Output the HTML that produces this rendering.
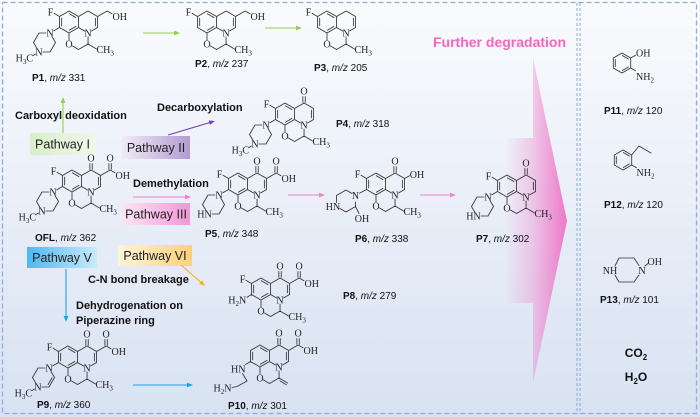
<!DOCTYPE html>
<html><head><meta charset="utf-8"><style>
html,body{margin:0;padding:0;width:700px;height:417px;overflow:hidden;background:#fff}
svg{display:block}
.b{stroke:#333;stroke-width:0.85;fill:none;stroke-linecap:round;stroke-linejoin:round}
.a{font-family:"Liberation Serif",serif;font-size:10px;fill:#222}
.l{font-family:"Liberation Sans",sans-serif;font-size:10px;fill:#111}
.t{font-family:"Liberation Sans",sans-serif;font-size:11px;font-weight:bold;fill:#111}
.p{font-family:"Liberation Sans",sans-serif;font-size:12.5px;fill:#222}
</style></head><body>
<svg width="700" height="417" viewBox="0 0 700 417" xmlns="http://www.w3.org/2000/svg">
<defs>
<linearGradient id="bg" x1="0" y1="0" x2="0" y2="1"><stop offset="0" stop-color="#fafbfe"/><stop offset="1" stop-color="#d8e2f2"/></linearGradient>
<linearGradient id="fd" gradientUnits="userSpaceOnUse" x1="505" y1="0" x2="567" y2="0"><stop offset="0" stop-color="#f06ec4" stop-opacity="0"/><stop offset="0.45" stop-color="#f06ec4" stop-opacity="0.32"/><stop offset="1" stop-color="#ee6cc3" stop-opacity="0.9"/></linearGradient>
<linearGradient id="g1" x1="0" y1="0" x2="1" y2="0"><stop offset="0" stop-color="#d9eec9"/><stop offset="1" stop-color="#eef7e8"/></linearGradient>
<linearGradient id="g2" x1="0" y1="0" x2="1" y2="0"><stop offset="0" stop-color="#f1ebf7"/><stop offset="1" stop-color="#b39bd2"/></linearGradient>
<linearGradient id="g3" x1="0" y1="0" x2="1" y2="0"><stop offset="0" stop-color="#fce6f4"/><stop offset="1" stop-color="#f297d7"/></linearGradient>
<linearGradient id="g5" x1="0" y1="0" x2="1" y2="0"><stop offset="0" stop-color="#4db9ef"/><stop offset="1" stop-color="#c9eafb"/></linearGradient>
<linearGradient id="g6" x1="0" y1="0" x2="1" y2="0"><stop offset="0" stop-color="#fff4d9"/><stop offset="1" stop-color="#fbd27a"/></linearGradient>
</defs>

<rect x="0" y="0" width="700" height="417" fill="url(#bg)"/>
<rect x="2.5" y="2.5" width="694" height="411" fill="none" stroke="#8eaadc" stroke-width="1.3" stroke-dasharray="5 3"/>
<line x1="577" y1="3" x2="577" y2="414" stroke="#8eaadc" stroke-width="1" stroke-dasharray="3 2"/>
<line x1="580" y1="3" x2="580" y2="414" stroke="#8eaadc" stroke-width="1" stroke-dasharray="3 2"/>

<!-- Further degradation arrow -->
<path d="M505,138 L533,138 L533,58 L567,221 L533,383 L533,303 L505,303 Z" fill="url(#fd)"/>
<text x="433" y="47" font-family="Liberation Sans, sans-serif" font-size="14" font-weight="bold" fill="#f466c0">Further degradation</text>

<!-- Pathway boxes -->
<rect x="30" y="133" width="65" height="22" fill="url(#g1)"/>
<text class="p" x="62.5" y="148.5" text-anchor="middle">Pathway I</text>
<rect x="122" y="136" width="68" height="23" fill="url(#g2)"/>
<text class="p" x="156" y="152" text-anchor="middle">Pathway II</text>
<rect x="122" y="203" width="68" height="22" fill="url(#g3)"/>
<text class="p" x="156" y="218.5" text-anchor="middle">Pathway III</text>
<rect x="27" y="247" width="70" height="21" fill="url(#g5)"/>
<text class="p" x="62" y="262" text-anchor="middle">Pathway V</text>
<rect x="118" y="245" width="74" height="21" fill="url(#g6)"/>
<text class="p" x="155" y="260" text-anchor="middle">Pathway VI</text>

<!-- Reaction labels -->
<text class="t" x="15" y="119">Carboxyl deoxidation</text>
<text class="t" x="157" y="111">Decarboxylation</text>
<text class="t" x="133" y="187">Demethylation</text>
<text class="t" x="88" y="283">C-N bond breakage</text>
<text class="t" x="76" y="309">Dehydrogenation on</text>
<text class="t" x="76" y="324">Piperazine ring</text>

<!-- Arrows -->
<g stroke-width="1.1" fill="none">
<line x1="143" y1="33" x2="175" y2="33" stroke="#92d050"/>
<line x1="265" y1="28" x2="297" y2="28" stroke="#92d050"/>
<line x1="63" y1="133" x2="63" y2="102" stroke="#92d050"/>
<line x1="168" y1="135" x2="210" y2="122.5" stroke="#7b3fb0"/>
<line x1="133" y1="197" x2="186" y2="197" stroke="#f27fcf"/>
<line x1="288" y1="195" x2="320" y2="195" stroke="#f27fcf"/>
<line x1="420" y1="195" x2="451" y2="195" stroke="#f27fcf"/>
<line x1="181" y1="265" x2="201" y2="282.5" stroke="#f5b21a"/>
<line x1="66" y1="269" x2="66" y2="317" stroke="#1aa6e8"/>
<line x1="133" y1="385" x2="188" y2="385" stroke="#1aa6e8"/>
</g>
<polygon points="180,33 174,30.6 174,35.4" fill="#92d050"/>
<polygon points="302,28 296,25.6 296,30.4" fill="#92d050"/>
<polygon points="63,97 60.6,103 65.4,103" fill="#92d050"/>
<polygon points="215,121 209.9,124.9 208.6,120.5" fill="#7b3fb0"/>
<polygon points="191,197 185,194.6 185,199.4" fill="#f27fcf"/>
<polygon points="325,195 319,192.6 319,197.4" fill="#f27fcf"/>
<polygon points="456,195 450,192.6 450,197.4" fill="#f27fcf"/>
<polygon points="205,286 199,283.6 202.2,280.2" fill="#f5b21a"/>
<polygon points="66,322 63.6,316 68.4,316" fill="#1aa6e8"/>
<polygon points="193,385 187,382.6 187,387.4" fill="#1aa6e8"/>

<!-- P1 -->
<g transform="translate(69,22)">
<path class="b" d="M0,-11 L9.53,-5.5 L9.53,5.5 L0,11 L-9.53,5.5 L-9.53,-5.5 Z M0.33,-8.28 L7,-4.42 M7,4.43 L0.33,8.28 M-7.33,3.85 L-7.33,-3.85 M9.53,-5.5 L19.05,-11 L28.58,-5.5 L28.58,5.5 L22.5,9 M15.6,9 L9.53,5.5 M26.38,-3.85 L26.38,3.85 M0,11 L0,18 M3.46,24 L9.53,27.5 L19.05,22 L19.05,15 M19.05,22 L27.5,27 M28.58,-5.5 L38.1,-11 L43,-8.2 M-9.53,-5.5 L-15,-8.7 M-9.53,5.5 L-15.3,8.9 M-23,11 L-30,11 L-35.5,20.5 L-32,26.5 M-26,30 L-19,30 L-13.5,20.5 L-17,14.5 M-33.5,32 L-36,33.5"/>
<text class="a" text-anchor="middle" x="19.05" y="14.5">N</text>
<text class="a" text-anchor="middle" x="0" y="25.5">O</text>
<text class="a" x="27.5" y="31">CH<tspan font-size="7" dy="2.5">3</tspan></text>
<text class="a" x="43.5" y="-2">OH</text>
<text class="a" text-anchor="middle" x="-18.5" y="-6.5">F</text>
<text class="a" text-anchor="middle" x="-19" y="14.5">N</text>
<text class="a" text-anchor="middle" x="-30" y="33.5">N</text>
<text class="a" text-anchor="end" x="-36" y="39.5">H<tspan font-size="7" dy="2.5">3</tspan><tspan dy="-2.5">C</tspan></text>
</g>
<text class="l" x="32" y="81"><tspan font-weight="bold">P1</tspan>, <tspan font-style="italic">m/z</tspan> 331</text>

<!-- P2 -->
<g transform="translate(207,22)">
<path class="b" d="M0,-11 L9.53,-5.5 L9.53,5.5 L0,11 L-9.53,5.5 L-9.53,-5.5 Z M0.33,-8.28 L7,-4.42 M7,4.43 L0.33,8.28 M-7.33,3.85 L-7.33,-3.85 M9.53,-5.5 L19.05,-11 L28.58,-5.5 L28.58,5.5 L22.5,9 M15.6,9 L9.53,5.5 M26.38,-3.85 L26.38,3.85 M0,11 L0,18 M3.46,24 L9.53,27.5 L19.05,22 L19.05,15 M19.05,22 L27.5,27 M28.58,-5.5 L38.1,-11 L43,-8.2 M-9.53,-5.5 L-15,-8.7"/>
<text class="a" text-anchor="middle" x="19.05" y="14.5">N</text>
<text class="a" text-anchor="middle" x="0" y="25.5">O</text>
<text class="a" x="27.5" y="31">CH<tspan font-size="7" dy="2.5">3</tspan></text>
<text class="a" x="43.5" y="-2">OH</text>
<text class="a" text-anchor="middle" x="-18.5" y="-6.5">F</text>
</g>
<text class="l" x="195" y="67"><tspan font-weight="bold">P2</tspan>, <tspan font-style="italic">m/z</tspan> 237</text>

<!-- P3 -->
<g transform="translate(327,22)">
<path class="b" d="M0,-11 L9.53,-5.5 L9.53,5.5 L0,11 L-9.53,5.5 L-9.53,-5.5 Z M0.33,-8.28 L7,-4.42 M7,4.43 L0.33,8.28 M-7.33,3.85 L-7.33,-3.85 M9.53,-5.5 L19.05,-11 L28.58,-5.5 L28.58,5.5 L22.5,9 M15.6,9 L9.53,5.5 M26.38,-3.85 L26.38,3.85 M0,11 L0,18 M3.46,24 L9.53,27.5 L19.05,22 L19.05,15 M19.05,22 L27.5,27 M-9.53,-5.5 L-15,-8.7"/>
<text class="a" text-anchor="middle" x="19.05" y="14.5">N</text>
<text class="a" text-anchor="middle" x="0" y="25.5">O</text>
<text class="a" x="27.5" y="31">CH<tspan font-size="7" dy="2.5">3</tspan></text>
<text class="a" text-anchor="middle" x="-18.5" y="-6.5">F</text>
</g>
<text class="l" x="314" y="71"><tspan font-weight="bold">P3</tspan>, <tspan font-style="italic">m/z</tspan> 205</text>

<!-- P4 -->
<g transform="translate(285,114)">
<path class="b" d="M0,-11 L9.53,-5.5 L9.53,5.5 L0,11 L-9.53,5.5 L-9.53,-5.5 Z M0.33,-8.28 L7,-4.42 M7,4.43 L0.33,8.28 M-7.33,3.85 L-7.33,-3.85 M9.53,-5.5 L19.05,-11 L28.58,-5.5 L28.58,5.5 L22.5,9 M15.6,9 L9.53,5.5 M26.38,-3.85 L26.38,3.85 M0,11 L0,18 M3.46,24 L9.53,27.5 L19.05,22 L19.05,15 M19.05,22 L27.5,27 M17.85,-11.7 L17.85,-17.5 M20.25,-11.7 L20.25,-17.5 M-9.53,-5.5 L-15,-8.7 M-9.53,5.5 L-15.3,8.9 M-23,11 L-30,11 L-35.5,20.5 L-32,26.5 M-26,30 L-19,30 L-13.5,20.5 L-17,14.5 M-33.5,32 L-36,33.5"/>
<text class="a" text-anchor="middle" x="19.05" y="14.5">N</text>
<text class="a" text-anchor="middle" x="0" y="25.5">O</text>
<text class="a" x="27.5" y="31">CH<tspan font-size="7" dy="2.5">3</tspan></text>
<text class="a" text-anchor="middle" x="19.05" y="-19.5">O</text>
<text class="a" text-anchor="middle" x="-18.5" y="-6.5">F</text>
<text class="a" text-anchor="middle" x="-19" y="14.5">N</text>
<text class="a" text-anchor="middle" x="-30" y="33.5">N</text>
<text class="a" text-anchor="end" x="-36" y="39.5">H<tspan font-size="7" dy="2.5">3</tspan><tspan dy="-2.5">C</tspan></text>
</g>
<text class="l" x="336" y="127"><tspan font-weight="bold">P4</tspan>, <tspan font-style="italic">m/z</tspan> 318</text>

<!-- OFL -->
<g transform="translate(72,181)">
<path class="b" d="M0,-11 L9.53,-5.5 L9.53,5.5 L0,11 L-9.53,5.5 L-9.53,-5.5 Z M0.33,-8.28 L7,-4.42 M7,4.43 L0.33,8.28 M-7.33,3.85 L-7.33,-3.85 M9.53,-5.5 L19.05,-11 L28.58,-5.5 L28.58,5.5 L22.5,9 M15.6,9 L9.53,5.5 M26.38,-3.85 L26.38,3.85 M0,11 L0,18 M3.46,24 L9.53,27.5 L19.05,22 L19.05,15 M19.05,22 L27.5,27 M17.85,-11.7 L17.85,-17.5 M20.25,-11.7 L20.25,-17.5 M28.58,-5.5 L38.1,-11 M36.9,-11.7 L36.9,-17.5 M39.3,-11.7 L39.3,-17.5 M38.1,-11 L43,-8.2 M-9.53,-5.5 L-15,-8.7 M-9.53,5.5 L-15.3,8.9 M-23,11 L-30,11 L-35.5,20.5 L-32,26.5 M-26,30 L-19,30 L-13.5,20.5 L-17,14.5 M-33.5,32 L-36,33.5"/>
<text class="a" text-anchor="middle" x="19.05" y="14.5">N</text>
<text class="a" text-anchor="middle" x="0" y="25.5">O</text>
<text class="a" x="27.5" y="31">CH<tspan font-size="7" dy="2.5">3</tspan></text>
<text class="a" text-anchor="middle" x="19.05" y="-19.5">O</text>
<text class="a" text-anchor="middle" x="38.1" y="-19.5">O</text>
<text class="a" x="43.5" y="-2">OH</text>
<text class="a" text-anchor="middle" x="-18.5" y="-6.5">F</text>
<text class="a" text-anchor="middle" x="-19" y="14.5">N</text>
<text class="a" text-anchor="middle" x="-30" y="33.5">N</text>
<text class="a" text-anchor="end" x="-36" y="39.5">H<tspan font-size="7" dy="2.5">3</tspan><tspan dy="-2.5">C</tspan></text>
</g>
<text class="l" x="35" y="241"><tspan font-weight="bold">OFL</tspan>, <tspan font-style="italic">m/z</tspan> 362</text>

<!-- P5 -->
<g transform="translate(238,184)">
<path class="b" d="M0,-11 L9.53,-5.5 L9.53,5.5 L0,11 L-9.53,5.5 L-9.53,-5.5 Z M0.33,-8.28 L7,-4.42 M7,4.43 L0.33,8.28 M-7.33,3.85 L-7.33,-3.85 M9.53,-5.5 L19.05,-11 L28.58,-5.5 L28.58,5.5 L22.5,9 M15.6,9 L9.53,5.5 M26.38,-3.85 L26.38,3.85 M0,11 L0,18 M3.46,24 L9.53,27.5 L19.05,22 L19.05,15 M19.05,22 L27.5,27 M17.85,-11.7 L17.85,-17.5 M20.25,-11.7 L20.25,-17.5 M28.58,-5.5 L38.1,-11 M36.9,-11.7 L36.9,-17.5 M39.3,-11.7 L39.3,-17.5 M38.1,-11 L43,-8.2 M-9.53,-5.5 L-15,-8.7 M-9.53,5.5 L-15.3,8.9 M-23,11 L-30,11 L-35.5,20.5 L-32,26.5 M-26,30 L-19,30 L-13.5,20.5 L-17,14.5"/>
<text class="a" text-anchor="middle" x="19.05" y="14.5">N</text>
<text class="a" text-anchor="middle" x="0" y="25.5">O</text>
<text class="a" x="27.5" y="31">CH<tspan font-size="7" dy="2.5">3</tspan></text>
<text class="a" text-anchor="middle" x="19.05" y="-19.5">O</text>
<text class="a" text-anchor="middle" x="38.1" y="-19.5">O</text>
<text class="a" x="43.5" y="-2">OH</text>
<text class="a" text-anchor="middle" x="-18.5" y="-6.5">F</text>
<text class="a" text-anchor="middle" x="-19" y="14.5">N</text>
<text class="a" text-anchor="end" x="-26.3" y="33.5">HN</text>
</g>
<text class="l" x="205" y="237"><tspan font-weight="bold">P5</tspan>, <tspan font-style="italic">m/z</tspan> 348</text>

<!-- P6 -->
<g transform="translate(376,184)">
<path class="b" d="M0,-11 L9.53,-5.5 L9.53,5.5 L0,11 L-9.53,5.5 L-9.53,-5.5 Z M0.33,-8.28 L7,-4.42 M7,4.43 L0.33,8.28 M-7.33,3.85 L-7.33,-3.85 M9.53,-5.5 L19.05,-11 L28.58,-5.5 L28.58,5.5 L22.5,9 M15.6,9 L9.53,5.5 M26.38,-3.85 L26.38,3.85 M0,11 L0,18 M3.46,24 L9.53,27.5 L19.05,22 L19.05,15 M19.05,22 L27.5,27 M17.85,-11.7 L17.85,-17.5 M20.25,-11.7 L20.25,-17.5 M28.58,-5.5 L33.5,-8.3 M-9.53,-5.5 L-15,-8.7 M-9.53,5.5 L-16.5,9.2 M-24,9.5 L-30,6 L-39.5,11.5 L-39.5,18.5 M-36,24.5 L-30,28 L-20.5,22.5 L-20.5,18 M-20.5,22.5 L-17,29.5"/>
<text class="a" text-anchor="middle" x="19.05" y="14.5">N</text>
<text class="a" text-anchor="middle" x="0" y="25.5">O</text>
<text class="a" x="27.5" y="31">CH<tspan font-size="7" dy="2.5">3</tspan></text>
<text class="a" text-anchor="middle" x="19.05" y="-19.5">O</text>
<text class="a" x="33.8" y="-6">OH</text>
<text class="a" text-anchor="middle" x="-18.5" y="-6.5">F</text>
<text class="a" text-anchor="middle" x="-20.5" y="15">N</text>
<text class="a" text-anchor="end" x="-35.8" y="26">HN</text>
<text class="a" text-anchor="middle" x="-14" y="38">OH</text>
</g>
<text class="l" x="355" y="242"><tspan font-weight="bold">P6</tspan>, <tspan font-style="italic">m/z</tspan> 338</text>

<!-- P7 -->
<g transform="translate(507,186)">
<path class="b" d="M0,-11 L9.53,-5.5 L9.53,5.5 L0,11 L-9.53,5.5 L-9.53,-5.5 Z M0.33,-8.28 L7,-4.42 M7,4.43 L0.33,8.28 M-7.33,3.85 L-7.33,-3.85 M9.53,-5.5 L19.05,-11 L28.58,-5.5 L28.58,5.5 L22.5,9 M15.6,9 L9.53,5.5 M26.38,-3.85 L26.38,3.85 M0,11 L0,18 M3.46,24 L9.53,27.5 L19.05,22 L19.05,15 M19.05,22 L27.5,27 M17.85,-11.7 L17.85,-17.5 M20.25,-11.7 L20.25,-17.5 M-9.53,-5.5 L-15,-8.7 M-9.53,5.5 L-15.3,8.9 M-23,11 L-30,11 L-35.5,20.5 L-32,26.5 M-26,30 L-19,30 L-13.5,20.5 L-17,14.5"/>
<text class="a" text-anchor="middle" x="19.05" y="14.5">N</text>
<text class="a" text-anchor="middle" x="0" y="25.5">O</text>
<text class="a" x="27.5" y="31">CH<tspan font-size="7" dy="2.5">3</tspan></text>
<text class="a" text-anchor="middle" x="19.05" y="-19.5">O</text>
<text class="a" text-anchor="middle" x="-18.5" y="-6.5">F</text>
<text class="a" text-anchor="middle" x="-19" y="14.5">N</text>
<text class="a" text-anchor="end" x="-26.3" y="33.5">HN</text>
</g>
<text class="l" x="476" y="242"><tspan font-weight="bold">P7</tspan>, <tspan font-style="italic">m/z</tspan> 302</text>

<!-- P8 -->
<g transform="translate(261,289)">
<path class="b" d="M0,-11 L9.53,-5.5 L9.53,5.5 L0,11 L-9.53,5.5 L-9.53,-5.5 Z M0.33,-8.28 L7,-4.42 M7,4.43 L0.33,8.28 M-7.33,3.85 L-7.33,-3.85 M9.53,-5.5 L19.05,-11 L28.58,-5.5 L28.58,5.5 L22.5,9 M15.6,9 L9.53,5.5 M26.38,-3.85 L26.38,3.85 M0,11 L0,18 M3.46,24 L9.53,27.5 L19.05,22 L19.05,15 M19.05,22 L27.5,27 M17.85,-11.7 L17.85,-17.5 M20.25,-11.7 L20.25,-17.5 M28.58,-5.5 L38.1,-11 M36.9,-11.7 L36.9,-17.5 M39.3,-11.7 L39.3,-17.5 M38.1,-11 L43,-8.2 M-9.53,-5.5 L-15,-8.7 M-9.53,5.5 L-14,8.2"/>
<text class="a" text-anchor="middle" x="19.05" y="14.5">N</text>
<text class="a" text-anchor="middle" x="0" y="25.5">O</text>
<text class="a" x="27.5" y="31">CH<tspan font-size="7" dy="2.5">3</tspan></text>
<text class="a" text-anchor="middle" x="19.05" y="-19.5">O</text>
<text class="a" text-anchor="middle" x="38.1" y="-19.5">O</text>
<text class="a" x="43.5" y="-2">OH</text>
<text class="a" text-anchor="middle" x="-18.5" y="-6.5">F</text>
<text class="a" text-anchor="end" x="-14.8" y="14.5">H<tspan font-size="7" dy="2.5">2</tspan><tspan dy="-2.5">N</tspan></text>
</g>
<text class="l" x="343" y="299"><tspan font-weight="bold">P8</tspan>, <tspan font-style="italic">m/z</tspan> 279</text>

<!-- P9 -->
<g transform="translate(68,357)">
<path class="b" d="M0,-11 L9.53,-5.5 L9.53,5.5 L0,11 L-9.53,5.5 L-9.53,-5.5 Z M0.33,-8.28 L7,-4.42 M7,4.43 L0.33,8.28 M-7.33,3.85 L-7.33,-3.85 M9.53,-5.5 L19.05,-11 L28.58,-5.5 L28.58,5.5 L22.5,9 M15.6,9 L9.53,5.5 M26.38,-3.85 L26.38,3.85 M0,11 L0,18 M3.46,24 L9.53,27.5 L19.05,22 L19.05,15 M19.05,22 L27.5,27 M17.85,-11.7 L17.85,-17.5 M20.25,-11.7 L20.25,-17.5 M28.58,-5.5 L38.1,-11 M36.9,-11.7 L36.9,-17.5 M39.3,-11.7 L39.3,-17.5 M38.1,-11 L43,-8.2 M-9.53,-5.5 L-15,-8.7 M-9.53,5.5 L-15.3,8.9 M-23,11 L-30,11 L-35.5,20.5 L-32,26.5 M-26,30 L-19,30 L-13.5,20.5 L-17,14.5 M-33.5,32 L-36,33.5 M-19.9,27.6 L-16,20.9"/>
<text class="a" text-anchor="middle" x="19.05" y="14.5">N</text>
<text class="a" text-anchor="middle" x="0" y="25.5">O</text>
<text class="a" x="27.5" y="31">CH<tspan font-size="7" dy="2.5">3</tspan></text>
<text class="a" text-anchor="middle" x="19.05" y="-19.5">O</text>
<text class="a" text-anchor="middle" x="38.1" y="-19.5">O</text>
<text class="a" x="43.5" y="-2">OH</text>
<text class="a" text-anchor="middle" x="-18.5" y="-6.5">F</text>
<text class="a" text-anchor="middle" x="-19" y="14.5">N</text>
<text class="a" text-anchor="middle" x="-30" y="33.5">N</text>
<text class="a" text-anchor="end" x="-36" y="39.5">H<tspan font-size="7" dy="2.5">3</tspan><tspan dy="-2.5">C</tspan></text>
</g>
<text class="l" x="37" y="408"><tspan font-weight="bold">P9</tspan>, <tspan font-style="italic">m/z</tspan> 360</text>

<!-- P10 -->
<g transform="translate(260,356)">
<path class="b" d="M0,-11 L9.53,-5.5 L9.53,5.5 L0,11 L-9.53,5.5 L-9.53,-5.5 Z M0.33,-8.28 L7,-4.42 M7,4.43 L0.33,8.28 M-7.33,3.85 L-7.33,-3.85 M9.53,-5.5 L19.05,-11 L28.58,-5.5 L28.58,5.5 L22.5,9 M15.6,9 L9.53,5.5 M26.38,-3.85 L26.38,3.85 M0,11 L0,18 M3.46,24 L9.53,27.5 L19.05,22 L19.05,15 M19.05,22 L27.5,27 M19.9,24.9 L26.4,28.7 M17.85,-11.7 L17.85,-17.5 M20.25,-11.7 L20.25,-17.5 M28.58,-5.5 L38.1,-11 M36.9,-11.7 L36.9,-17.5 M39.3,-11.7 L39.3,-17.5 M38.1,-11 L43,-8.2 M-9.53,5.5 L-14.5,8.5 M-17.5,17.5 L-13,25 L-23,30.5 L-28,31.5"/>
<text class="a" text-anchor="middle" x="19.05" y="14.5">N</text>
<text class="a" text-anchor="middle" x="0" y="25.5">O</text>
<text class="a" text-anchor="middle" x="19.05" y="-19.5">O</text>
<text class="a" text-anchor="middle" x="38.1" y="-19.5">O</text>
<text class="a" x="43.5" y="-2">OH</text>
<text class="a" text-anchor="end" x="-14.5" y="16.5">HN</text>
<text class="a" text-anchor="end" x="-28.5" y="35.5">H<tspan font-size="7" dy="2.5">2</tspan><tspan dy="-2.5">N</tspan></text>
</g>
<text class="l" x="228" y="409"><tspan font-weight="bold">P10</tspan>, <tspan font-style="italic">m/z</tspan> 301</text>

<!-- P11 -->
<path class="b" d="M622,53 L630.7,58 L630.7,68 L622,73 L613.3,68 L613.3,58 Z M615.3,59.5 L615.3,66.5 M622.3,55.5 L628.4,59 M628.4,67 L622.3,70.5 M630.7,58 L635.5,55.2 M630.7,68 L635.5,70.8"/>
<text class="a" x="636" y="56.5">OH</text>
<text class="a" x="636" y="80">NH<tspan font-size="7" dy="2.5">2</tspan></text>
<text class="l" x="604" y="114"><tspan font-weight="bold">P11</tspan>, <tspan font-style="italic">m/z</tspan> 120</text>

<!-- P12 -->
<path class="b" d="M623,150 L631.7,155 L631.7,165 L623,170 L614.3,165 L614.3,155 Z M616.3,156.5 L616.3,163.5 M623.3,152.5 L629.4,156 M629.4,164 L623.3,167.5 M631.7,155 L639,146 L651,153 M631.7,165 L636.5,167.8"/>
<text class="a" x="636.5" y="176">NH<tspan font-size="7" dy="2.5">2</tspan></text>
<text class="l" x="604" y="208"><tspan font-weight="bold">P12</tspan>, <tspan font-style="italic">m/z</tspan> 120</text>

<!-- P13 -->
<path class="b" d="M615,266 L619,258 L634,258 L639,265.5 M639,275 L634,282 L619,282 L615,275 M645,266 L648,263.5"/>
<text class="a" text-anchor="middle" x="610" y="274">NH</text>
<text class="a" text-anchor="middle" x="642" y="274">N</text>
<text class="a" x="647.5" y="265">OH</text>
<text class="l" x="600" y="303"><tspan font-weight="bold">P13</tspan>, <tspan font-style="italic">m/z</tspan> 101</text>

<!-- CO2 / H2O -->
<text x="636" y="357" text-anchor="middle" font-family="Liberation Sans, sans-serif" font-size="12" font-weight="bold" fill="#111">CO<tspan font-size="8" dy="3">2</tspan></text>
<text x="636" y="381" text-anchor="middle" font-family="Liberation Sans, sans-serif" font-size="12" font-weight="bold" fill="#111">H<tspan font-size="8" dy="3">2</tspan><tspan dy="-3">O</tspan></text>
</svg>
</body></html>
